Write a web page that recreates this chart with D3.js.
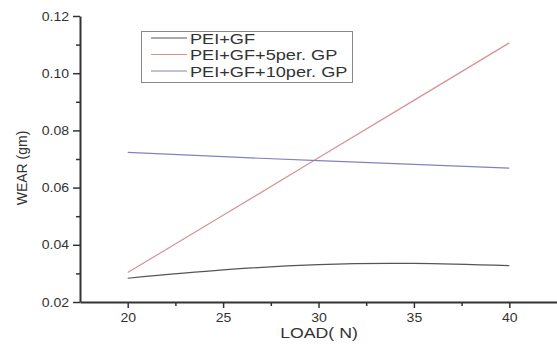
<!DOCTYPE html>
<html>
<head>
<meta charset="utf-8">
<script src="https://cdn.jsdelivr.net/npm/d3@7"></script>
<style>
  body { margin: 0; background: #fff; }
  svg text { font-family: Arial, "Liberation Sans", sans-serif; fill: #333; }
</style>
</head>
<body>
<div class="chart"></div>
<script>
var loads = [20, 25, 30, 35, 40];
var wearGF = [0.0283, 0.0312, 0.0331, 0.0335, 0.0327];
var wearGF5 = [0.0303, 0.0503, 0.0704, 0.0905, 0.1106];
var wearGF10 = [0.0723, 0.0708, 0.0694, 0.0681, 0.0668];
var seriesNames = ['PEI+GF', 'PEI+GF+5per. GP', 'PEI+GF+10per. GP'];
var xTicks = [20, 25, 30, 35, 40];
var yTicks = [0.02, 0.04, 0.06, 0.08, 0.10, 0.12];

var legendData = [
  {color: '#555', name: seriesNames[0], values: wearGF},
  {color: '#d49494', name: seriesNames[1], values: wearGF5},
  {color: '#8282bd', name: seriesNames[2], values: wearGF10}
];

// the picture is a little wider than it is tall, so stretch text sideways
function stretch(sel, k) {
  sel.each(function() {
    var w = this.getComputedTextLength();
    d3.select(this)
      .attr('textLength', w * k)
      .attr('lengthAdjust', 'spacingAndGlyphs');
  });
}

var width = 557, height = 349;
var svg = d3.select('.chart').append('svg')
  .attr('width', width)
  .attr('height', height);

var x = d3.scaleLinear().domain([17.5, 42.5]).range([80, 557]);
var y = d3.scaleLinear().domain([0.02, 0.12]).range([302, 16]);

// minor ticks first so the major ones draw on top
var xMinor = d3.range(22.5, 40, 5);
var yMinor = d3.range(0.03, 0.12, 0.02);

svg.append('g')
  .attr('transform', 'translate(0,' + y(0.02) + ')')
  .call(d3.axisBottom(x).tickValues(xMinor).tickSize(4).tickFormat(''))
  .call(function(g) { g.select('.domain').remove(); });

svg.append('g')
  .attr('transform', 'translate(' + x(17.5) + ',0)')
  .call(d3.axisLeft(y).tickValues(yMinor).tickSize(4).tickFormat(''))
  .call(function(g) { g.select('.domain').remove(); });

var xAxis = svg.append('g')
  .attr('transform', 'translate(0,' + y(0.02) + ')')
  .call(d3.axisBottom(x).tickValues(xTicks).tickSize(6).tickPadding(5).tickSizeOuter(0));

var yAxis = svg.append('g')
  .attr('transform', 'translate(' + x(17.5) + ',0)')
  .call(d3.axisLeft(y).tickValues(yTicks).tickSize(7).tickPadding(4).tickSizeOuter(0)
    .tickFormat(d3.format('.2f')));

svg.selectAll('.domain').attr('stroke', '#333').attr('stroke-width', 2);
svg.selectAll('.tick line').attr('stroke', '#333').attr('stroke-width', 1.5);
svg.selectAll('.tick text')
  .style('font-size', '13px')
  .attr('fill', '#333')
  .call(stretch, 1.08);

// axis titles
svg.append('text')
  .attr('x', 319)
  .attr('y', 338)
  .attr('text-anchor', 'middle')
  .style('font-size', '15px')
  .text('LOAD( N)')
  .call(stretch, 1.18);

svg.append('text')
  .attr('transform', 'translate(27,168) rotate(-90)')
  .attr('text-anchor', 'middle')
  .style('font-size', '14px')
  .text('WEAR (gm)');

// lines
legendData.forEach(function(s, i) {
  var line = d3.line()
    .curve(i == 0 ? d3.curveNatural : d3.curveLinear)
    .x(function(d, j) { return x(loads[j]); })
    .y(function(d) { return y(d); });

  svg.append('path')
    .datum(s.values)
    .attr('fill', 'none')
    .attr('stroke', s.color)
    .attr('stroke-width', 1.2)
    .attr('d', line);
});

// legend
var legend = svg.append('g').attr('class', 'legend');
legend.append('rect')
  .attr('x', 141.5)
  .attr('y', 31.5)
  .attr('width', 211)
  .attr('height', 51)
  .attr('fill', '#fff')
  .attr('stroke', '#888')
  .attr('stroke-width', 1);

legendData.forEach(function(d, i) {
  var ly = 38 + i * 16.5;
  legend.append('line')
    .attr('x1', 151).attr('x2', 187)
    .attr('y1', ly).attr('y2', ly)
    .attr('stroke', d.color)
    .attr('stroke-width', 1);
  legend.append('text')
    .attr('x', 190)
    .attr('y', ly + 5.5)
    .style('font-size', '15px')
    .text(d.name)
    .call(stretch, 1.21);
});
</script>
</body>
</html>
